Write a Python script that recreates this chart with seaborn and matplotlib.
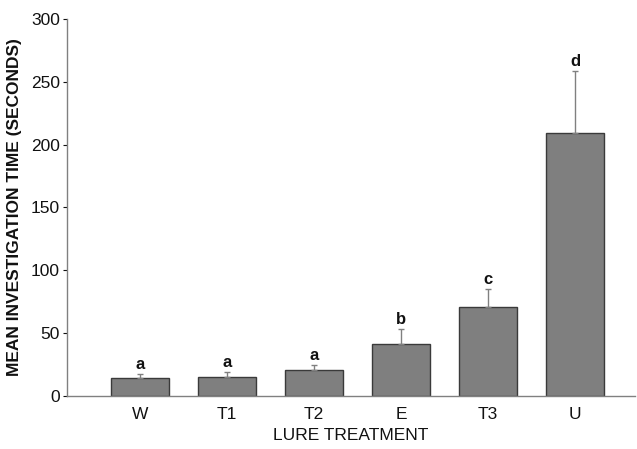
import matplotlib
matplotlib.use("Agg")
import matplotlib.pyplot as plt
import seaborn as sns
import pandas as pd
import numpy as np

categories = ["W", "T1", "T2", "E", "T3", "U"]
means = [14.5, 15.4, 20.4, 41.4, 71.0, 209.5]
sem = [3.0, 3.9, 4.3, 12.0, 14.0, 49.0]
letters = ["a", "a", "a", "b", "c", "d"]

sns.set_theme(style="ticks")
plt.rcParams['font.family'] = ['Liberation Sans', 'DejaVu Sans']

df = pd.DataFrame({"treatment": categories, "mean": means})

fig = plt.figure(figsize=(6.37, 4.49), dpi=100)
ax = fig.add_axes([0.105, 0.118, 0.892, 0.84])

sns.barplot(data=df, x="treatment", y="mean", color="#7f7f7f", saturation=1,
            edgecolor="#3a3a3a", linewidth=1.0, width=0.66, ax=ax, errorbar=None)

x = np.arange(len(categories))
ax.errorbar(x, means, yerr=[np.zeros(len(sem)), sem], fmt="none",
            ecolor="#808080", elinewidth=1.0, capsize=2.5, capthick=1.0)

for xi, m, s, l in zip(x, means, sem, letters):
    ax.text(xi, m + s + 1.5, l, ha="center", va="bottom", fontsize=12,
            fontweight="bold", color="#111111")

ax.set_ylim(0, 300)
ax.set_xlim(-0.84, 5.69)
ax.set_yticks([0, 50, 100, 150, 200, 250, 300])
ax.set_xlabel("LURE TREATMENT", fontsize=12.5, color="#111111", labelpad=4)
ax.set_ylabel("MEAN INVESTIGATION TIME (SECONDS)", fontsize=12.5, fontweight="bold",
              color="#111111", labelpad=6)
ax.tick_params(axis="both", labelsize=12.5, colors="#111111", length=3, width=0.8)
ax.tick_params(axis="x", length=0, pad=8)
ax.tick_params(axis="y", pad=2)
for sp in ["top", "right"]:
    ax.spines[sp].set_visible(False)
for sp in ["left", "bottom"]:
    ax.spines[sp].set_color("#808080")
    ax.spines[sp].set_linewidth(1.0)
for t in ax.get_yticklines():
    t.set_color("#808080")

fig.savefig("out.png", dpi=100)
